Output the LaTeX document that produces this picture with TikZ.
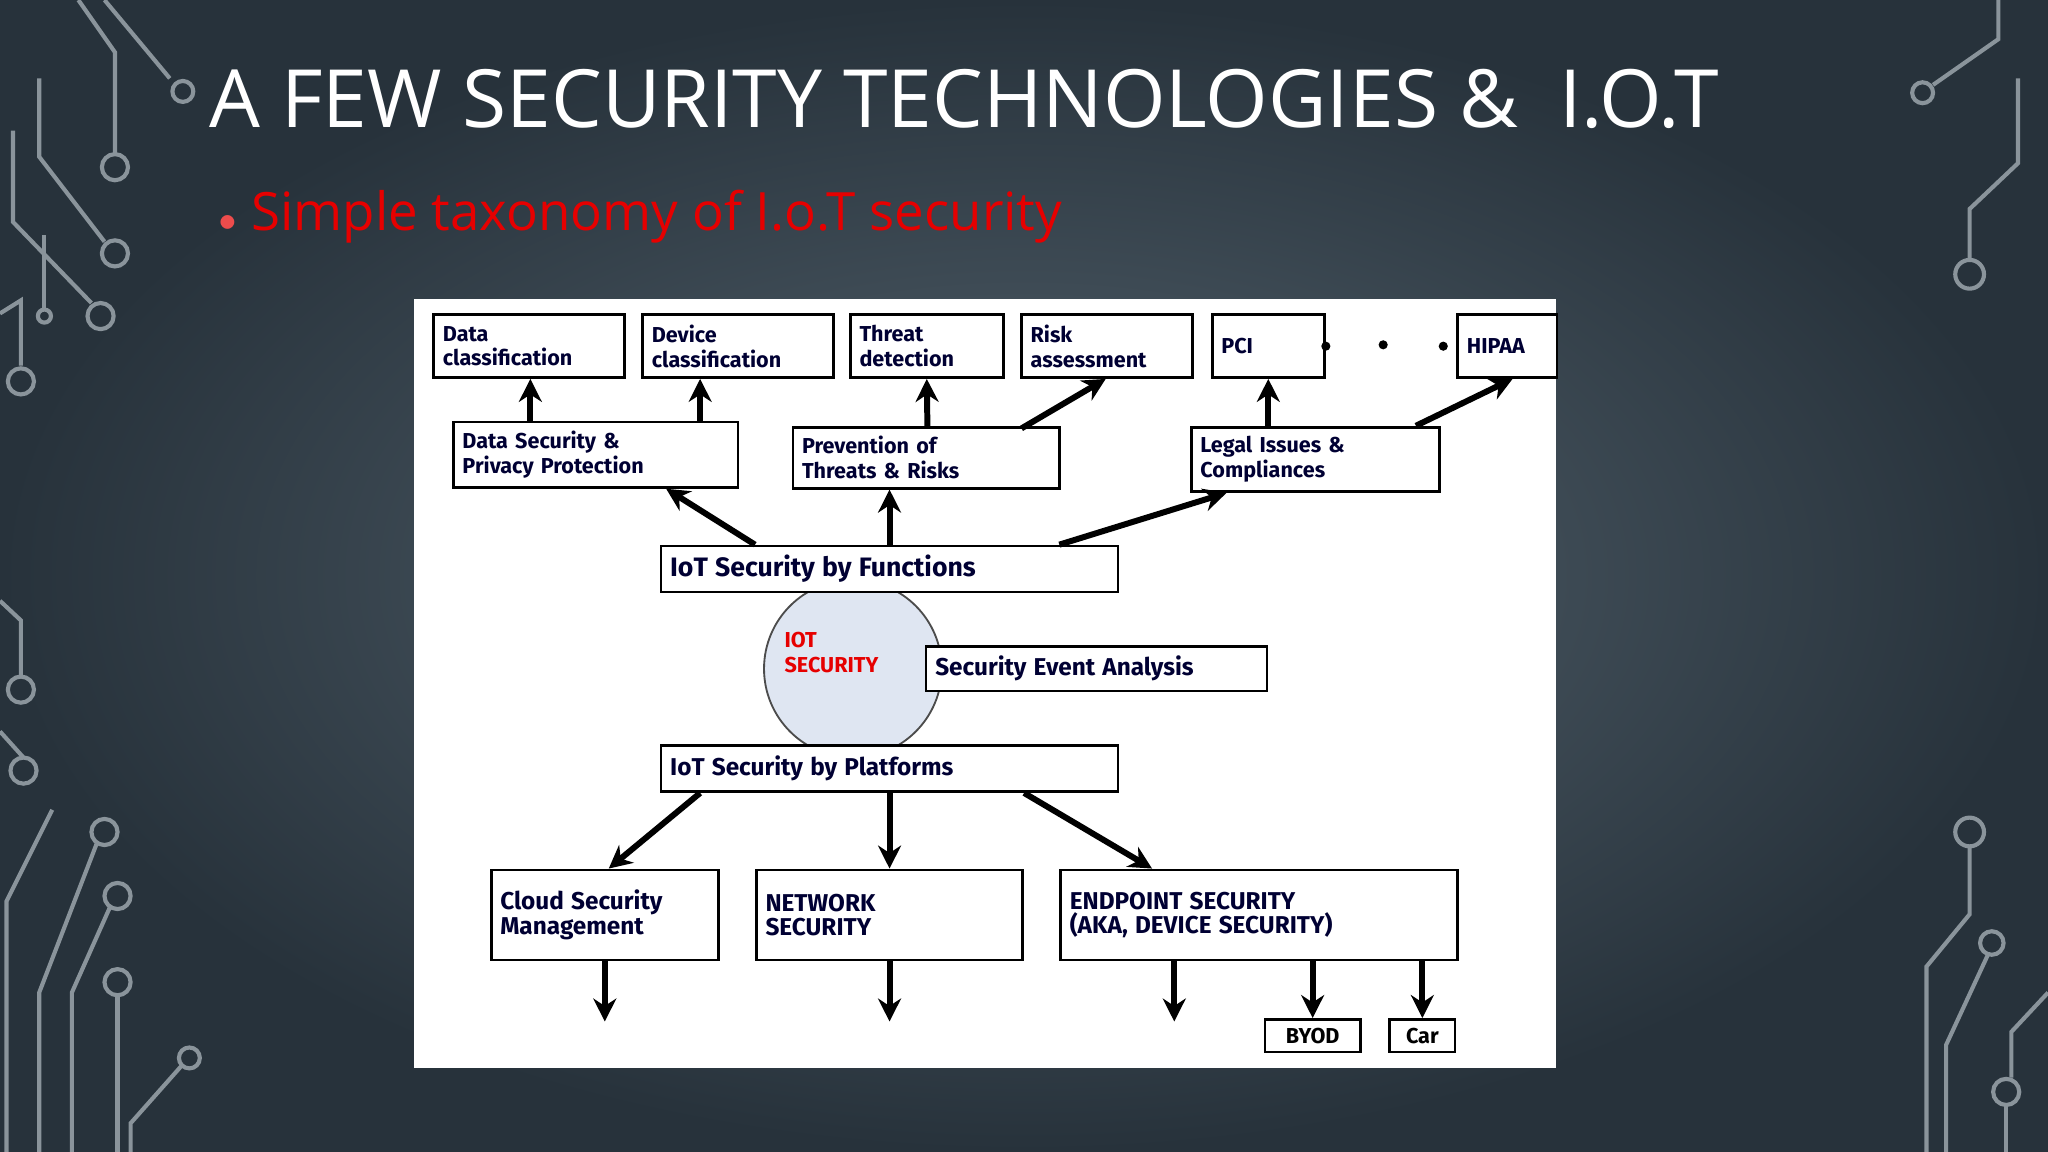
\documentclass[tikz,border=0pt]{standalone}
\usepackage{fontspec}
\setmainfont{Open Sans}
\newfontfamily\dg{Fira Sans}
\usetikzlibrary{arrows.meta,calc}
\definecolor{bgA}{HTML}{27323B}
\definecolor{bgB}{HTML}{55646F}
\definecolor{circ}{HTML}{8A949B}
\definecolor{ttl}{HTML}{E60000}
\definecolor{bub}{HTML}{DFE6F2}
\tikzset{
 bx/.style={draw=black,fill=white,line width=0.6pt,anchor=north west,inner sep=2pt,align=left,font=\dg\bfseries\fontsize{4.7}{5.4}\selectfont,text=black!80!blue},
 arr/.style={-{Stealth[length=5pt,width=5pt]},line width=1.3pt},
 ck/.style={draw=circ,line width=0.9pt},
}
\newcommand{\bxs}[7]{\node[bx,minimum width=#3*0.01cm,minimum height=#4*0.01cm,text width=#3*0.01cm-4pt,#7] (#5) at (#1,#2) {#6};}
\begin{document}
\begin{tikzpicture}[x=0.01cm,y=-0.01cm]
\useasboundingbox (0,0) rectangle (1568,882);
\fill[bgA] (0,0) rectangle (1568,882);
\shade[inner color=bgB,outer color=bgA] (0,0) rectangle (1568,882);
% circuit decorations
\draw[ck] (80,0)--(130,60); \draw[ck] (140,70) circle (8);
\draw[ck] (60,0)--(88,40)--(88,118); \draw[ck] (88,128) circle (10);
\draw[ck] (30,60)--(30,120)--(80,185); \draw[ck] (88,194) circle (10);
\draw[ck] (10,100)--(10,170)--(70,232); \draw[ck] (77,242) circle (10);
\draw[ck] (0,240)--(16,230)--(16,280); \draw[ck] (16,292) circle (10);
\draw[ck] (34,180)--(34,236); \draw[ck] (34,242) circle (5);
\draw[ck] (0,460)--(16,475)--(16,518); \draw[ck] (16,528) circle (10);
\draw[ck] (0,560)--(18,580); \draw[ck] (18,590) circle (10);
\draw[ck] (5,882)--(5,690)--(40,620); \draw[ck] (80,637) circle (10); \draw[ck] (74,646)--(30,760)--(30,882);
\draw[ck] (90,686) circle (10); \draw[ck] (84,695)--(55,760)--(55,882);
\draw[ck] (90,752) circle (10); \draw[ck] (90,762)--(90,882);
\draw[ck] (145,810) circle (8); \draw[ck] (139,816)--(100,860)--(100,882);
\draw[ck] (1530,0)--(1530,30)--(1480,65); \draw[ck] (1472,71) circle (8);
\draw[ck] (1545,60)--(1545,125)--(1508,160)--(1508,198); \draw[ck] (1508,210) circle (11);
\draw[ck] (1508,637) circle (11); \draw[ck] (1508,648)--(1508,700)--(1475,740)--(1475,882);
\draw[ck] (1525,722) circle (9); \draw[ck] (1522,731)--(1490,800)--(1490,882);
\draw[ck] (1568,760)--(1540,790)--(1540,825); \draw[ck] (1536,836) circle (10); \draw[ck] (1536,846)--(1536,882);
% titles
\node[anchor=west,text=white,font=\fontsize{17.5}{20}\selectfont] (title) at (148,76) {A FEW SECURITY TECHNOLOGIES \&\ \ I.O.T};
\node[anchor=west,text=ttl,font=\fontsize{11.5}{14}\selectfont] (sub) at (155,166) {{\textcolor{ttl!70!white}{\fontsize{7}{8}\selectfont$\bullet$}}\ Simple taxonomy of I.o.T security};
% panel
\fill[white] (317,229) rectangle (1191,818);
\node[circle,draw=black!70,fill=bub,minimum size=1.36cm,inner sep=0pt] (iot) at (653,512) {};
% boxes
\bxs{331}{240}{146}{48}{dc}{Data\\classification}{}
\bxs{491}{240}{146}{48}{dvc}{Device\\classification}{}
\bxs{650}{240}{117}{48}{td}{Threat\\detection}{}
\bxs{781}{240}{131}{48}{ra}{Risk\\assessment}{}
\bxs{927}{240}{86}{48}{pci}{PCI}{}
\bxs{1115}{240}{76}{48}{hip}{HIPAA}{}
\bxs{346}{322}{218}{48}{dsp}{Data Security \&\\Privacy Protection}{}
\bxs{606}{326}{204}{44}{pot}{Prevention of\\Threats \& Risks}{}
\bxs{911}{326}{190}{44}{lic}{Legal Issues \&\\Compliances}{}
\bxs{505}{417}{350}{35}{fun}{\fontsize{5.8}{7}\selectfont IoT Security by Functions}{}
\node[anchor=north west,text=ttl,font=\dg\bfseries\fontsize{4.7}{5.6}\selectfont,align=left,inner sep=0pt] (iotl) at (600,483) {IOT\\SECURITY};
\bxs{708}{494}{261}{34}{sea}{\fontsize{5.3}{6.5}\selectfont Security Event Analysis}{}
\bxs{505}{570}{350}{35}{plat}{\fontsize{5.3}{6.5}\selectfont IoT Security by Platforms}{}
\bxs{375}{665}{174}{69}{csm}{\fontsize{5.3}{7}\selectfont Cloud Security\\Management}{inner ysep=4pt}
\bxs{578}{665}{204}{69}{net}{\fontsize{5.3}{7}\selectfont NETWORK\\SECURITY}{inner ysep=4pt}
\bxs{811}{665}{304}{69}{end}{\fontsize{5.3}{7}\selectfont ENDPOINT SECURITY\\(AKA, DEVICE SECURITY)}{inner ysep=4pt}
\node[draw,line width=0.6pt,font=\dg\bfseries\fontsize{4.7}{6}\selectfont,minimum width=0.73cm,minimum height=0.25cm,inner sep=1pt] (byod) at (1005,793) {BYOD};
\node[draw,line width=0.6pt,font=\dg\bfseries\fontsize{4.7}{6}\selectfont,minimum width=0.5cm,minimum height=0.25cm,inner sep=1pt] (car) at (1089,793) {Car};
% dots
\fill (pci.east) circle (3.5); \fill (1059,264) circle (3.5); \fill ($(hip.west)+(-10,0)$) circle (3.5);
% arrows
\draw[arr] ($(dsp.north)+(-50,0)$) -- ($(dc.south)+(1,0)$);
\draw[arr] ($(dsp.north)+(80,0)$) -- ($(dvc.south)+(-29,0)$);
\draw[arr] ($(pot.north)+(1,0)$) -- (td.south);
\draw[arr] ($(pot.north)+(73,2)$) -- ($(ra.south)+(-1,0)$);
\draw[arr] ($(lic.north)+(-36,0)$) -- (pci.south);
\draw[arr] ($(lic.north)+(77,0)$) -- ($(hip.south)+(4,0)$);
\draw[arr] ($(fun.north)+(-103,0)$) -- ($(dsp.south)+(54,0)$);
\draw[arr] (fun.north) -- ($(pot.south)+(-28,0)$);
\draw[arr] ($(fun.north)+(130,0)$) -- ($(lic.south)+(-68,0)$);
\draw[arr] ($(plat.south)+(-145,0)$) -- ($(csm.north)+(3,0)$);
\draw[arr] (plat.south) -- (net.north);
\draw[arr] ($(plat.south)+(103,0)$) -- ($(end.north)+(-82,0)$);
\draw[arr] (csm.south) -- ++(0,46) coordinate (c1);
\draw[arr] (net.south) -- ++(0,46) coordinate (c2);
\draw[arr] ($(end.south)+(-65,0)$) -- ++(0,46) coordinate (c3);
\draw[arr] (byod.north |- end.south) -- (byod.north);
\draw[arr] (car.north |- end.south) -- (car.north);
\end{tikzpicture}
\end{document}
